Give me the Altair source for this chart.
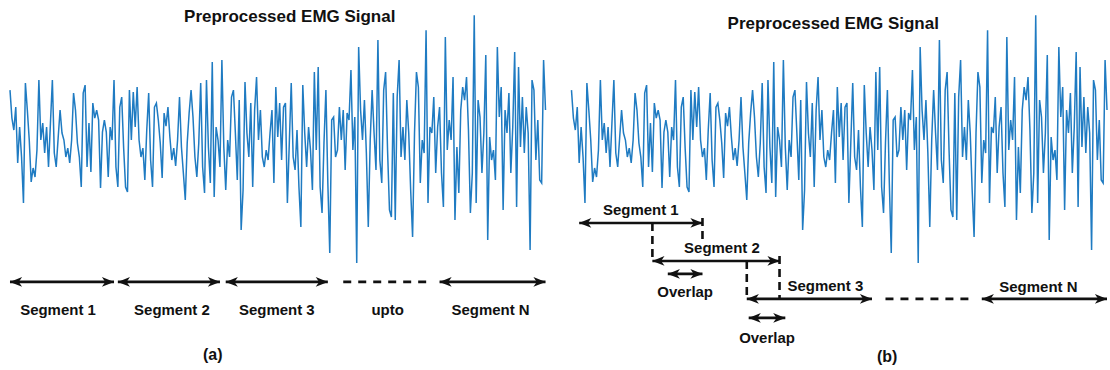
import altair as alt
import pandas as pd

# Preprocessed surface EMG, amplitude in mV, one value per sample
emg_mv = [
    0.48, 0.20, 0.08, 0.31, -0.25, 0.11, -0.19, -0.65, 0.55, 0.28,
    -0.02, -0.44, -0.30, -0.39, -0.12, 0.58, -0.02, 0.15, -0.15, 0.11,
    -0.29, 0.15, 0.58, -0.15, -0.29, 0.00, 0.28, 0.05, -0.02, -0.19,
    -0.10, -0.25, -0.02, 0.45, 0.28, -0.05, -0.19, -0.49, 0.45, 0.53,
    -0.29, 0.15, -0.34, 0.35, 0.20, 0.28, 0.18, -0.50, 0.06, 0.18,
    0.06, -0.39, 0.11, -0.02, 0.58, -0.29, -0.49, 0.31, 0.41, -0.10,
    -0.49, -0.54, 0.48, -0.02, 0.46, 0.11, 0.51, -0.02, -0.19, -0.10,
    -0.42, 0.08, 0.45, -0.22, -0.49, 0.31, 0.35, 0.18, -0.05, -0.40,
    0.25, 0.12, 0.31, 0.01, -0.22, -0.10, -0.28,
    -0.02, 0.41, -0.09, -0.35, -0.62, -0.05, 0.25, 0.48, 0.21, -0.19,
    -0.39, -0.05, 0.55, -0.29, -0.55, 0.58, -0.09, -0.45, 0.76, -0.59,
    0.11, -0.02, -0.29, 0.78, -0.09, -0.52, -0.02, -0.19, 0.41, 0.48,
    0.05, -0.42, 0.38, -0.92, -0.52, 0.56, 0.05, -0.19, 0.35, -0.49,
    0.28, 0.61, -0.02, 0.28, -0.19, -0.29, -0.12, -0.22, 0.05, 0.28,
    -0.45, 0.51, 0.01, 0.35, -0.22, 0.31, 0.35, -0.65, -0.05, 0.55,
    -0.19, -0.32, 0.08, -0.49, -0.89, 0.53, 0.05, -0.29, 0.11, -0.12,
    -0.52, 0.66, -0.12, 0.71, -0.49, -0.75, -0.05, 0.48, -0.45, -1.15,
    0.18, 0.21, -0.19, -0.12, 0.31, -0.02, 0.28, -0.32, 0.25, 0.18,
    0.68, -0.12, 0.21, -1.25, 0.91, 0.28, -0.02,
    0.38, -0.15, -0.89, -0.02, 0.48, 0.05, -0.32, 0.98, -0.22, -0.45,
    0.48, 0.66, -0.12, -0.72, -0.79, 0.45, -0.82, 0.41, 0.78, -0.19,
    0.11, -0.22, 0.38, 0.05, -0.52, -0.99, 0.05, 0.66, 0.51, -0.45,
    -0.02, -0.15, 1.08, -0.65, 0.11, 0.05, 0.41, -0.35, 0.11, 0.31,
    -0.35, -0.69, 1.01, -0.12, 0.18, -0.02, 0.61, -0.82, -0.09, -0.55,
    0.28, 0.51, 0.38, 0.61, 0.08, -0.75, -0.35, 1.23, -0.65, 0.38,
    0.21, -0.35, 0.05, 0.83, -1.02, 0.01, -0.22, -0.12, -0.42, 0.91,
    0.21, 0.51, -0.72, 0.28, 0.05, 0.45, -0.35, 0.11, 0.86, -0.69,
    0.71, -0.09, 0.41, -0.15, 0.31, 0.05, -1.12, 0.58, 0.48, -0.22,
    0.18, -0.42, -0.45, 0.78, 0.28,
]

# (a) non-overlapping windows, in sample indices
seg_a_names = ["Segment 1", "Segment 2", "Segment 3", "Segment N"]
seg_a_start = [0, 56, 112, 223]
seg_a_end = [54, 109, 165, 278]
gap_a = [173, 217]

# (b) overlapping windows, in sample indices
seg_b_names = ["Segment 1", "Segment 2", "Segment 3", "Segment N"]
seg_b_start = [4, 42, 91, 213]
seg_b_end = [68, 108, 156, 278]
gap_b = [163, 208]
overlap_start = [50, 92]
overlap_end = [68, 111]

TITLE = "Preprocessed EMG Signal"

# ---------------------------------------------------------------- layout
PANEL_W, PANEL_H = 555, 370
SPAN_PX = 536
N = len(emg_mv)
PPS = SPAN_PX / (N - 1)
Y_DOMAIN = [-2.32, 1.38]
BLUE = "#1f7bc2"
INK = "#111111"
FONT = "Liberation Sans"

HEAD_SIZE = 150
HEAD_OFF = 6
RIGHT_HEAD = "M 1 0 L -1 -0.8 L -0.45 0 L -1 0.8 Z"
LEFT_HEAD = "M -1 0 L 1 -0.8 L 0.45 0 L 1 0.8 Z"

signal_df = pd.DataFrame({"sample": list(range(N)), "mv": emg_mv})


def xscale(left_px):
    return alt.Scale(domain=[-left_px / PPS, (PANEL_W - left_px) / PPS],
                     nice=False, zero=False)


def build_panel(left_px, arrows, gaps, vlines, labels, title_xy, tag, tag_xy):
    xs = xscale(left_px)
    line = alt.Chart(signal_df).mark_line(color=BLUE, strokeWidth=1.5).encode(
        x=alt.X("sample:Q", scale=xs, axis=None),
        y=alt.Y("mv:Q", scale=alt.Scale(domain=Y_DOMAIN, nice=False, zero=False), axis=None),
    )
    arr_df = pd.DataFrame(arrows, columns=["x0", "x1", "row"])
    shafts = alt.Chart(arr_df).mark_rule(color=INK, strokeWidth=2.6).encode(
        x=alt.X("x0:Q", scale=xs, axis=None), x2="x1:Q",
        y=alt.Y("row:Q", scale=None),
    )
    heads_r = alt.Chart(arr_df).mark_point(
        shape=RIGHT_HEAD, filled=True, size=HEAD_SIZE, color=INK, opacity=1, xOffset=-HEAD_OFF
    ).encode(x=alt.X("x1:Q", scale=xs, axis=None), y=alt.Y("row:Q", scale=None))
    heads_l = alt.Chart(arr_df).mark_point(
        shape=LEFT_HEAD, filled=True, size=HEAD_SIZE, color=INK, opacity=1, xOffset=HEAD_OFF
    ).encode(x=alt.X("x0:Q", scale=xs, axis=None), y=alt.Y("row:Q", scale=None))

    gap_df = pd.DataFrame(gaps, columns=["x0", "x1", "row"])
    gap_lines = alt.Chart(gap_df).mark_rule(
        color=INK, strokeWidth=2.6, strokeDash=[8, 7]
    ).encode(x=alt.X("x0:Q", scale=xs, axis=None), x2="x1:Q", y=alt.Y("row:Q", scale=None))

    layers = [line, shafts, heads_r, heads_l, gap_lines]

    if vlines:
        v_df = pd.DataFrame(vlines, columns=["x", "top", "bottom"])
        layers.append(alt.Chart(v_df).mark_rule(
            color=INK, strokeWidth=2.6, strokeDash=[8, 5]
        ).encode(x=alt.X("x:Q", scale=xs, axis=None),
                 y=alt.Y("top:Q", scale=None), y2="bottom:Q"))

    lab_df = pd.DataFrame(labels, columns=["x", "row", "text", "dx"])
    for dx, grp in lab_df.groupby("dx"):
        layers.append(alt.Chart(grp).mark_text(
            font=FONT, fontWeight="bold", fontSize=15, color=INK,
            align="center", baseline="middle", dx=float(dx)
        ).encode(x=alt.X("x:Q", scale=xs, axis=None),
                 y=alt.Y("row:Q", scale=None), text="text:N"))

    title = alt.Chart(pd.DataFrame({"t": [TITLE]})).mark_text(
        font=FONT, fontWeight="bold", fontSize=17, color=INK,
        align="center", baseline="middle"
    ).encode(x=alt.value(title_xy[0]), y=alt.value(title_xy[1]), text="t:N")
    tag_mark = alt.Chart(pd.DataFrame({"t": [tag]})).mark_text(
        font=FONT, fontWeight="bold", fontSize=16, color=INK,
        align="center", baseline="middle"
    ).encode(x=alt.value(tag_xy[0]), y=alt.value(tag_xy[1]), text="t:N")
    layers += [title, tag_mark]
    return alt.layer(*layers).properties(width=PANEL_W, height=PANEL_H)


# ---- panel (a)
ROW_A, LABEL_A = 282, 310
arrows_a = [(s, e, ROW_A) for s, e in zip(seg_a_start, seg_a_end)]
gaps_a = [(gap_a[0], gap_a[1], ROW_A)]
label_dx_a = [-4, 3, 0, -2]
labels_a = [((s + e) / 2, LABEL_A, n, d)
            for s, e, n, d in zip(seg_a_start, seg_a_end, seg_a_names, label_dx_a)]
labels_a.append(((gap_a[0] + gap_a[1]) / 2, LABEL_A, "upto", 2))
panel_a = build_panel(10, arrows_a, gaps_a, [], labels_a, (290, 17), "(a)", (213, 355))

# ---- panel (b)
rows_b = [223, 261, 299, 299]
label_rows_b = [210, 248, 286, 287]
label_dx_b = [0, 6, 16, -6]
overlap_rows = [274, 318]
overlap_label_rows = [292, 338]
arrows_b = [(s, e, r) for s, e, r in zip(seg_b_start, seg_b_end, rows_b)]
arrows_b += [(s, e, r) for s, e, r in zip(overlap_start, overlap_end, overlap_rows)]
gaps_b = [(gap_b[0], gap_b[1], rows_b[2])]
vlines_b = [
    (seg_b_start[1], rows_b[0], rows_b[1]),
    (seg_b_end[0], rows_b[0] - 5, rows_b[0] + 18),
    (seg_b_start[2], rows_b[1], rows_b[2]),
    (seg_b_end[1], rows_b[1] - 5, rows_b[2]),
]
labels_b = [((s + e) / 2, r, n, d) for s, e, r, n, d in
            zip(seg_b_start, seg_b_end, label_rows_b, seg_b_names, label_dx_b)]
labels_b += [((s + e) / 2, r, "Overlap", 0) for s, e, r in
             zip(overlap_start, overlap_end, overlap_label_rows)]
panel_b = build_panel(17, arrows_b, gaps_b, vlines_b, labels_b, (279, 24), "(b)", (333, 357))

chart = (
    alt.hconcat(panel_a, panel_b, spacing=0)
    .properties(padding=0, background="white")
    .configure_view(stroke=None)
)

chart.save("out.html", embed_options={"renderer": "svg", "actions": False})
